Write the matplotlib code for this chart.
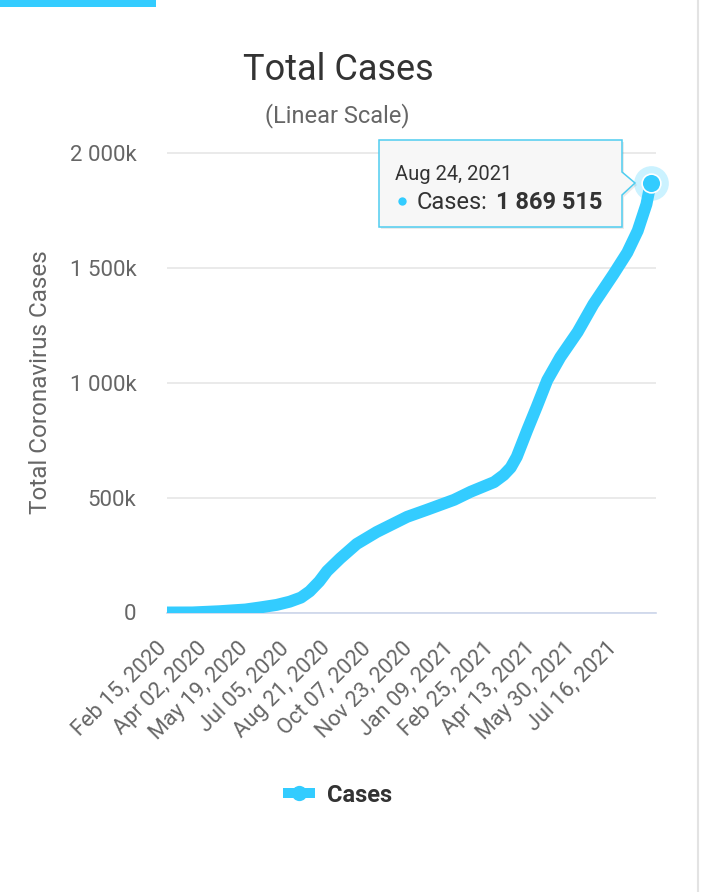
import matplotlib
matplotlib.use('Agg')
import matplotlib.pyplot as plt
from matplotlib.patches import Polygon, Rectangle
from matplotlib.lines import Line2D
from matplotlib.transforms import IdentityTransform, Affine2D
import pandas as pd

plt.rcParams['font.family'] = ['Roboto', 'DejaVu Sans']

# ---------------- data ----------------
dates = ['2020-02-15', '2020-03-15', '2020-04-15', '2020-05-15', '2020-06-01',
         '2020-06-20', '2020-07-05', '2020-07-18', '2020-07-28', '2020-08-08',
         '2020-08-17', '2020-09-01', '2020-09-20', '2020-10-13', '2020-11-17',
         '2020-12-10', '2021-01-10', '2021-01-29', '2021-02-25', '2021-03-08',
         '2021-03-16', '2021-03-23', '2021-04-04', '2021-04-15', '2021-04-27',
         '2021-05-12', '2021-06-01', '2021-06-19', '2021-07-12', '2021-07-28',
         '2021-08-09', '2021-08-19', '2021-08-24']
cases = [0, 200, 5500, 13000, 22000,
         33000, 47000, 65000, 92000, 135000,
         180000, 235000, 298000, 350000, 416000,
         447000, 490000, 525000, 567000, 598000,
         630000, 677000, 793000, 895000, 1010000,
         1110000, 1220000, 1340000, 1470000, 1565000,
         1660000, 1775000, 1869515]

tick_dates = ['2020-02-15', '2020-04-02', '2020-05-19', '2020-07-05', '2020-08-21',
              '2020-10-07', '2020-11-23', '2021-01-09', '2021-02-25', '2021-04-13',
              '2021-05-30', '2021-07-16']
tick_labels = ['Feb 15, 2020', 'Apr 02, 2020', 'May 19, 2020', 'Jul 05, 2020',
               'Aug 21, 2020', 'Oct 07, 2020', 'Nov 23, 2020', 'Jan 09, 2021',
               'Feb 25, 2021', 'Apr 13, 2021', 'May 30, 2021', 'Jul 16, 2021']
ytick_values = [0, 500000, 1000000, 1500000, 2000000]
ytick_labels = ['0', '500k', '1 000k', '1 500k', '2 000k']

series_name = 'Cases'
tooltip_date = 'Aug 24, 2021'
tooltip_value = '1 869 515'

# ---------------- figure ----------------
W, H = 720, 892
fig = plt.figure(figsize=(W / 100, H / 100), dpi=100)
fig.patch.set_facecolor('white')


def fx(x):
    return x / W


def fy(y):
    return 1 - y / H


LINE = '#33ccff'
DARK = '#333333'
GRAY = '#666666'

ax = fig.add_axes([fx(167), fy(612.5), fx(656) - fx(167), fy(152.3) - fy(612.5)])
xd = pd.to_datetime(dates)
ax.plot(xd, cases, color=LINE, lw=8.6, solid_joinstyle='round',
        solid_capstyle='butt', zorder=3)

# hovered point marker + halo
ax.plot([xd[-1]], [cases[-1]], 'o', ms=25, color=LINE, alpha=0.25,
        mec='none', zorder=4, clip_on=False)
ax.plot([xd[-1]], [cases[-1]], 'o', ms=13.5, color=LINE, mec='white',
        mew=1.2, zorder=5, clip_on=False)

ax.set_xlim(xd[0], xd[-1] + pd.Timedelta(days=6))
ax.set_ylim(0, 2000000 * 1.0005)

ax.set_yticks(ytick_values)
ax.set_yticklabels(ytick_labels)
ax.set_xticks(pd.to_datetime(tick_dates))
ax.set_xticklabels(tick_labels, rotation=45, ha='right', va='top',
                   rotation_mode='anchor')

ax.grid(axis='y', color='#e6e6e6', lw=1.2, zorder=0)
ax.grid(axis='x', visible=False)
for s in ['top', 'right', 'left']:
    ax.spines[s].set_visible(False)
ax.spines['bottom'].set_color('#ccd6eb')
ax.spines['bottom'].set_linewidth(1.2)
ax.tick_params(axis='both', length=0, labelcolor=GRAY)
ax.tick_params(axis='y', pad=22, labelsize=16)
ax.tick_params(axis='x', pad=18, labelsize=15.7)
for lbl in ax.get_xticklabels():
    lbl.set_transform(lbl.get_transform() + Affine2D().translate(-11, 0))

# ---------------- texts ----------------
fig.text(fx(338), fy(80), 'Total Cases', ha='center', va='baseline',
         fontsize=26, color=DARK)
fig.text(fx(337), fy(122), '(Linear Scale)', ha='center', va='baseline',
         fontsize=17, color=GRAY)
fig.text(fx(41), fy(382), 'Total Coronavirus Cases', ha='center', va='center',
         rotation=90, fontsize=17.5, color=GRAY)

# ---------------- legend ----------------
fig.add_artist(Line2D([fx(283), fx(315)], [fy(793), fy(793)], color=LINE,
                      lw=7.2, solid_capstyle='butt'))
fig.add_artist(Line2D([fx(299)], [fy(793)], marker='o', ms=11, color=LINE,
                      mec='none'))
fig.text(fx(327), fy(801.5), series_name, ha='left', va='baseline',
         fontsize=17, fontweight='bold', color=DARK)

# ---------------- decorations ----------------
ident = IdentityTransform()
fig.add_artist(Rectangle((0, H - 7), 156, 7, transform=ident,
                         facecolor=LINE, edgecolor='none'))
fig.add_artist(Line2D([697.5, 697.5], [0, H], transform=ident,
                      color='#e3e3e3', lw=1.5))

# tooltip
tip_pts = [(379, 140), (622, 140), (622, 172), (635, 183), (622, 195),
           (622, 227), (379, 227)]
shadow = Polygon([(x + 2, H - y - 2) for x, y in tip_pts], closed=True,
                 transform=ident, facecolor='#000000', alpha=0.08,
                 edgecolor='none', zorder=8)
fig.add_artist(shadow)
tip = Polygon([(x, H - y) for x, y in tip_pts], closed=True,
              transform=ident, facecolor='#f7f7f7', edgecolor='#4fcdf0',
              lw=1.1, zorder=9)
fig.add_artist(tip)
fig.text(fx(395), fy(180), tooltip_date, ha='left', va='baseline',
         fontsize=14.5, color=DARK, zorder=10)
fig.add_artist(Line2D([fx(402)], [fy(201)], marker='o', ms=6, color=LINE,
                      mec='none', zorder=10))
fig.text(fx(416.5), fy(209), series_name + ':', ha='left', va='baseline',
         fontsize=17, color=DARK, zorder=10)
fig.text(fx(496.5), fy(209), tooltip_value, ha='left', va='baseline',
         fontsize=17, fontweight='bold', color=DARK, zorder=10)

fig.savefig('out.png', dpi=100, facecolor='white')
